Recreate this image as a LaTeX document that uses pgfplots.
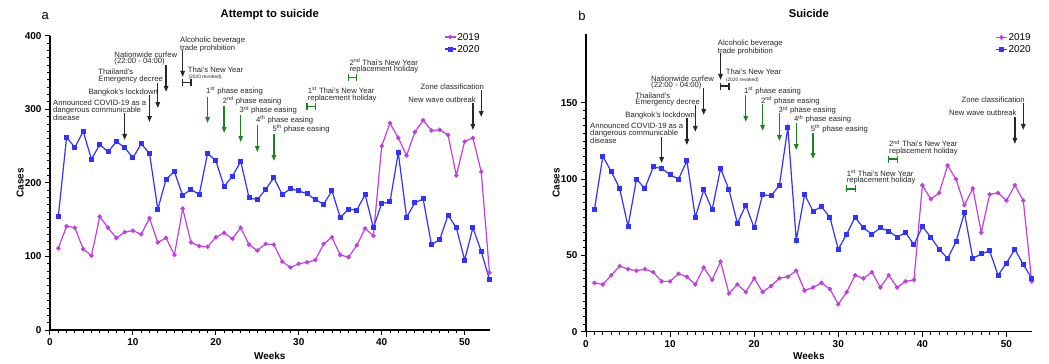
\documentclass[border=0pt]{standalone}
\usepackage{fontspec}
\setmainfont{Liberation Sans}
\usepackage{pgfplots}
\pgfplotsset{compat=1.18}
\usetikzlibrary{arrows.meta}
\definecolor{cpurple}{RGB}{192,64,224}
\definecolor{cblue}{RGB}{50,50,255}
\definecolor{cgreen}{RGB}{30,130,30}

\pgfplotsset{
 common/.style={
  scale only axis, xmin=0, xmax=53, ymin=0,
  axis x line*=bottom, axis y line*=left,
  axis line style={-, line width=1.2bp, black},
  xtick={0,10,...,50}, minor x tick num=9,
  tick align=outside, xtick pos=bottom, ytick pos=left,
  major tick length=5bp, minor tick length=3bp,
  every major tick/.style={black, line width=1bp},
  every minor tick/.style={black, line width=0.8bp},
  ticklabel style={font=\bfseries\fontsize{10}{12}\selectfont},
  /pgf/number format/assume math mode=true,
  xlabel={Weeks}, ylabel={Cases},
  label style={font=\bfseries\fontsize{10}{12}\selectfont},
  title style={font=\bfseries\fontsize{11.3}{13}\selectfont, anchor=center, yshift=-6pt},
  clip=false,
  legend cell align=left,
  legend image code/.code={\draw[mark repeat=2,mark phase=2] plot coordinates {(0bp,0bp) (5.5bp,0bp) (11bp,0bp)};},
  legend style={draw=none, fill=none, anchor=north west, font=\fontsize{10}{11}\selectfont, inner sep=0bp, row sep=1.5bp, nodes={inner sep=1bp, text height=7.5bp, text depth=1bp}},
 },
 s19/.style={color=cpurple, line width=1.2bp, mark=*, mark size=1.6bp},
 s20/.style={color=cblue, line width=1.2bp, mark=square*, mark size=1.9bp},
}
\tikzset{
 ann/.style={font=\fontsize{7.7}{6.4}\selectfont, inner sep=0pt, align=left, text=black!85},
 barr/.style={-{Triangle[length=6bp,width=4.5bp]}, line width=1.3bp, black!85},
 garr/.style={-{Triangle[length=6bp,width=4.5bp]}, line width=1.3bp, cgreen},
}
\newcommand{\Hmark}[4]{%
 \draw[#1, line width=1.2bp] (axis cs:#2,#4) -- (axis cs:#3,#4);
 \draw[#1, line width=1.2bp] ([yshift=3.5bp]axis cs:#2,#4) -- ([yshift=-3.5bp]axis cs:#2,#4);
 \draw[#1, line width=1.2bp] ([yshift=3.5bp]axis cs:#3,#4) -- ([yshift=-3.5bp]axis cs:#3,#4);
}

\begin{document}
\begin{tikzpicture}
\useasboundingbox (0,0) rectangle (1049bp,364bp);

% ---------------- Panel a ----------------
\begin{axis}[common, at={(50bp,34bp)}, anchor=south west,
  width=439.5bp, height=294.4bp, ymax=400,
  ytick={0,100,...,400}, minor y tick num=9,
  title={Attempt to suicide},
  title style={at={(axis description cs:0.5,1.07)}},
  xlabel style={at={(axis description cs:0.5,-0.0873)}, anchor=center},
  ylabel style={at={(axis description cs:-0.068,0.5)}, anchor=center},
  legend style={at={(rel axis cs:0.8965,1.0136)}},
]
\addplot[s19] coordinates {
(1,111)(2,141)(3,139)(4,110)(5,101)(6,154)(7,139)(8,125)(9,133)(10,135)
(11,130)(12,152)(13,119)(14,125)(15,102)(16,165)(17,119)(18,114)(19,113)(20,126)
(21,132)(22,124)(23,139)(24,116)(25,108)(26,117)(27,116)(28,93)(29,85)(30,90)
(31,92)(32,95)(33,117)(34,126)(35,102)(36,99)(37,115)(38,138)(39,128)(40,250)
(41,281)(42,261)(43,237)(44,269)(45,285)(46,271)(47,272)(48,265)(49,210)(50,256)
(51,261)(52,215)(53,78)};
\addlegendentry{2019}
\addplot[s20] coordinates {
(1,154)(2,262)(3,248)(4,270)(5,232)(6,252)(7,242)(8,256)(9,248)(10,234)
(11,253)(12,240)(13,164)(14,205)(15,215)(16,183)(17,191)(18,184)(19,240)(20,230)
(21,195)(22,209)(23,229)(24,180)(25,177)(26,191)(27,207)(28,184)(29,192)(30,189)
(31,185)(32,177)(33,171)(34,189)(35,153)(36,164)(37,163)(38,184)(39,139)(40,172)
(41,174)(42,241)(43,153)(44,173)(45,178)(46,116)(47,123)(48,156)(49,139)(50,95)
(51,139)(52,107)(53,68)};
\addlegendentry{2020}

\node[font=\fontsize{13}{15}\selectfont, inner sep=0pt] at (axis description cs:-0.011,1.065) {a};

\node[ann, anchor=north west] at (axis cs:0.36,312.5) {Announced COVID-19 as a\\dangerous communicable\\disease};
\node[ann, anchor=north west] at (axis cs:4.62,328.4) {Bangkok's lockdown};
\node[ann, anchor=north west] at (axis cs:5.82,354.6) {Thailand's\\Emergency decree};
\node[ann, anchor=north west] at (axis cs:7.75,378.1) {Nationwide curfew\\(22:00 - 04:00)};
\node[ann, anchor=north west] at (axis cs:15.68,398.5) {Alcoholic beverage\\trade prohibition};
\node[ann, anchor=north west] at (axis cs:16.6,357.7) {Thai's New Year};
\node[ann, anchor=north west, font=\fontsize{4.9}{5}\selectfont] at (axis cs:16.68,346.9) {(2020 revoked)};
\node[ann, anchor=north west] at (axis cs:18.81,329.8) {1\textsuperscript{st} phase easing};
\node[ann, anchor=north west] at (axis cs:20.83,317.0) {2\textsuperscript{nd} phase easing};
\node[ann, anchor=north west] at (axis cs:22.83,304.3) {3\textsuperscript{rd} phase easing};
\node[ann, anchor=north west] at (axis cs:24.84,291.7) {4\textsuperscript{th} phase easing};
\node[ann, anchor=north west] at (axis cs:26.81,279.0) {5\textsuperscript{th} phase easing};
\node[ann, anchor=north west] at (axis cs:31.08,329.8) {1\textsuperscript{st} Thai's New Year\\replacement holiday};
\node[ann, anchor=north west] at (axis cs:36.1,369.2) {2\textsuperscript{nd} Thai's New Year\\replacement holiday};
\node[ann, anchor=north east] at (axis cs:52.34,335.2) {Zone classification};
\node[ann, anchor=north east] at (axis cs:51.37,317.0) {New wave outbreak};

\draw[barr] (axis cs:9,294.8) -- (axis cs:9,258.2);
\draw[barr] (axis cs:12,319.3) -- (axis cs:12,282.6);
\draw[barr] (axis cs:13,335.6) -- (axis cs:13,301.6);
\draw[barr] (axis cs:14,360.0) -- (axis cs:14,323.4);
\draw[barr] (axis cs:16,380.4) -- (axis cs:16,343.8);
\draw[garr] (axis cs:19,316.6) -- (axis cs:19,281.3);
\draw[garr] (axis cs:21,304.3) -- (axis cs:21,267.7);
\draw[garr] (axis cs:23,292.1) -- (axis cs:23,255.4);
\draw[garr] (axis cs:25,278.5) -- (axis cs:25,241.8);
\draw[garr] (axis cs:27,266.3) -- (axis cs:27,229.6);
\draw[barr] (axis cs:52,326.0) -- (axis cs:52,289.4);
\draw[barr] (axis cs:51,308.4) -- (axis cs:51,271.7);
\Hmark{black!85}{16}{17}{336.3}
\Hmark{cgreen}{31}{32}{303.7}
\Hmark{cgreen}{36}{37}{343.1}
\end{axis}

% ---------------- Panel b ----------------
\begin{axis}[common, at={(586bp,32.3bp)}, anchor=south west,
  width=445.7bp, height=297.4bp, ymax=195,
  ytick={0,50,100,150}, minor y tick num=9,
  title={Suicide},
  title style={at={(axis description cs:0.5,1.07)}},
  xlabel style={at={(axis description cs:0.5,-0.0807)}, anchor=center},
  ylabel style={at={(axis description cs:-0.067,0.5)}, anchor=center},
  legend style={at={(rel axis cs:0.918,1.008)}},
]
\addplot[s19] coordinates {
(1,32)(2,31)(3,37)(4,43)(5,41)(6,40)(7,41)(8,39)(9,33)(10,33)
(11,38)(12,36)(13,31)(14,42)(15,34)(16,46)(17,25)(18,31)(19,26)(20,35)
(21,26)(22,30)(23,35)(24,36)(25,40)(26,27)(27,29)(28,32)(29,28)(30,18)
(31,26)(32,37)(33,35)(34,39)(35,29)(36,37)(37,29)(38,33)(39,34)(40,96)
(41,87)(42,91)(43,109)(44,100)(45,83)(46,94)(47,65)(48,90)(49,91)(50,86)
(51,96)(52,86)(53,33)};
\addlegendentry{2019}
\addplot[s20] coordinates {
(1,80)(2,115)(3,105)(4,94)(5,69)(6,100)(7,94)(8,108)(9,107)(10,103)
(11,100)(12,112)(13,75)(14,93)(15,80)(16,107)(17,93)(18,71)(19,83)(20,68)
(21,90)(22,89)(23,96)(24,134)(25,60)(26,90)(27,79)(28,82)(29,75)(30,54)
(31,64)(32,75)(33,68)(34,64)(35,68)(36,66)(37,62)(38,65)(39,57)(40,69)
(41,62)(42,54)(43,48)(44,59)(45,78)(46,48)(47,51)(48,53)(49,37)(50,45)
(51,54)(52,44)(53,35)};
\addlegendentry{2020}

\node[font=\fontsize{13}{15}\selectfont, inner sep=0pt] at (axis description cs:-0.009,1.062) {b};

\node[ann, anchor=north west] at (axis cs:0.48,136.7) {Announced COVID-19 as a\\dangerous communicable\\disease};
\node[ann, anchor=north west] at (axis cs:4.67,144.3) {Bangkok's lockdown};
\node[ann, anchor=north west] at (axis cs:5.86,157.0) {Thailand's\\Emergency decree};
\node[ann, anchor=north west] at (axis cs:7.73,167.9) {Nationwide curfew\\(22:00 - 04:00)};
\node[ann, anchor=north west] at (axis cs:15.66,191.3) {Alcoholic beverage\\trade prohibition};
\node[ann, anchor=north west] at (axis cs:16.61,172.1) {Thai's New Year};
\node[ann, anchor=north west, font=\fontsize{4.9}{5}\selectfont] at (axis cs:16.61,166.8) {(2020 revoked)};
\node[ann, anchor=north west] at (axis cs:18.79,160.3) {1\textsuperscript{st} phase easing};
\node[ann, anchor=north west] at (axis cs:20.81,154.1) {2\textsuperscript{nd} phase easing};
\node[ann, anchor=north west] at (axis cs:22.87,148.0) {3\textsuperscript{rd} phase easing};
\node[ann, anchor=north west] at (axis cs:24.73,142.1) {4\textsuperscript{th} phase easing};
\node[ann, anchor=north west] at (axis cs:26.72,136.0) {5\textsuperscript{th} phase easing};
\node[ann, anchor=north west] at (axis cs:31.0,106.0) {1\textsuperscript{st} Thai's New Year\\replacement holiday};
\node[ann, anchor=north west] at (axis cs:36.03,125.7) {2\textsuperscript{nd} Thai's New Year\\replacement holiday};
\node[ann, anchor=north east] at (axis cs:52.2,154.1) {Zone classification};
\node[ann, anchor=north east] at (axis cs:51.21,145.4) {New wave outbreak};

\draw[barr] (axis cs:9,127.7) -- (axis cs:9,110.6);
\draw[barr] (axis cs:12,140.1) -- (axis cs:12,122.4);
\draw[barr] (axis cs:13,148.7) -- (axis cs:13,131.0);
\draw[barr] (axis cs:14,159.8) -- (axis cs:14,142.1);
\draw[barr] (axis cs:16,182.8) -- (axis cs:16,165.1);
\draw[garr] (axis cs:19,155.2) -- (axis cs:19,137.6);
\draw[garr] (axis cs:21,149.3) -- (axis cs:21,131.6);
\draw[garr] (axis cs:23,143.4) -- (axis cs:23,125.0);
\draw[garr] (axis cs:25,136.9) -- (axis cs:25,119.1);
\draw[garr] (axis cs:27,130.4) -- (axis cs:27,113.2);
\draw[barr] (axis cs:52,150.0) -- (axis cs:52,132.3);
\draw[barr] (axis cs:51,140.8) -- (axis cs:51,123.1);
\Hmark{black!85}{16}{17}{161.1}
\Hmark{cgreen}{31}{32}{93.6}
\Hmark{cgreen}{36}{37}{113.2}
\end{axis}
\end{tikzpicture}
\end{document}
